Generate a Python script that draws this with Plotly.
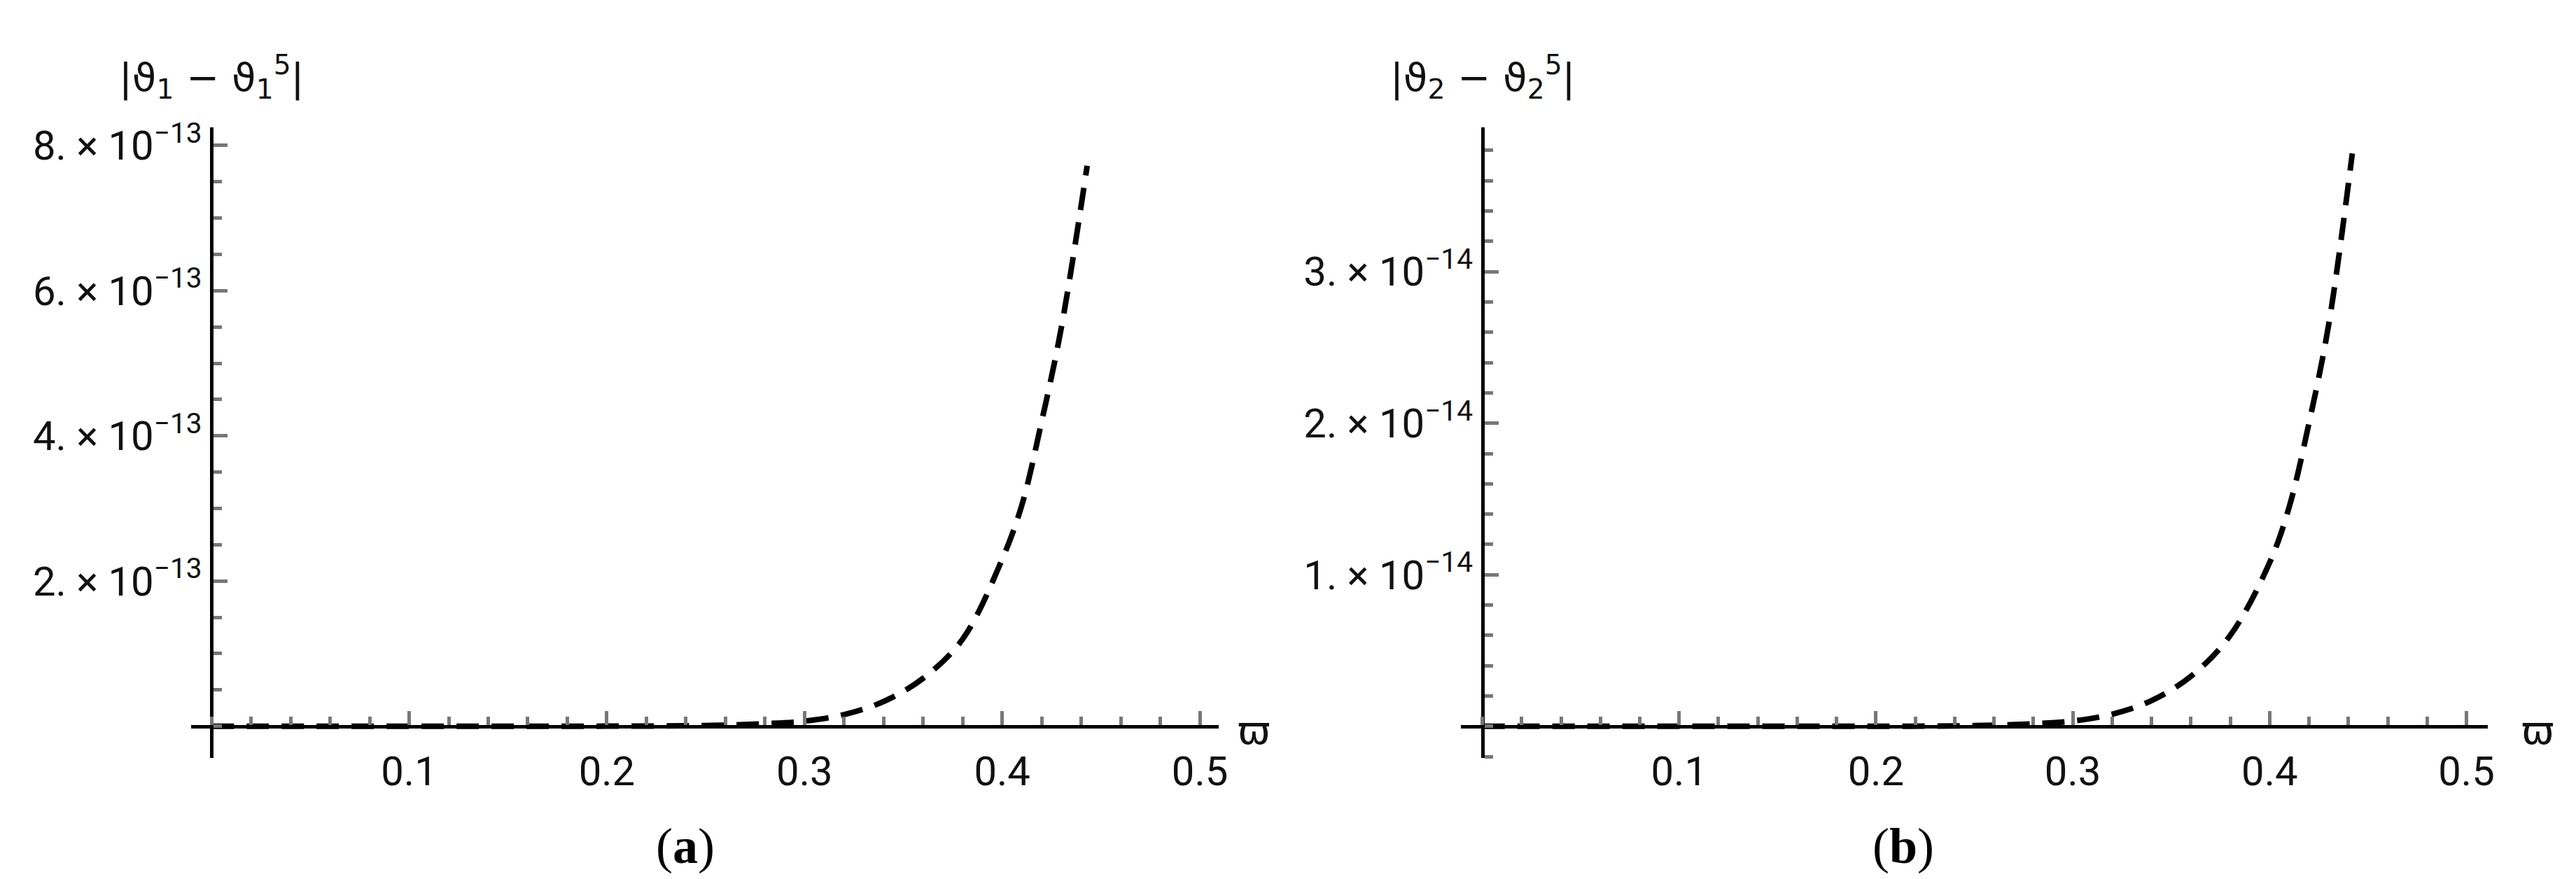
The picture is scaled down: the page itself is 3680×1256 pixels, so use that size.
import plotly.graph_objects as go

W, H = 3680, 1256
# data
x_a = [0, 0.05, 0.1, 0.15, 0.2, 0.25, 0.28, 0.3, 0.32, 0.34, 0.36, 0.38, 0.4, 0.41, 0.42, 0.43, 0.443]
y_a = [0, 0, 0, 0, 0.0007e-13, 0.009e-13, 0.035e-13, 0.07e-13, 0.16e-13, 0.34e-13, 0.66e-13,
       1.2e-13, 2.3e-13, 3.05e-13, 4.2e-13, 5.5e-13, 7.72e-13]
x_b = [0, 0.05, 0.1, 0.15, 0.2, 0.25, 0.28, 0.3, 0.32, 0.34, 0.36, 0.38, 0.4, 0.41, 0.42, 0.43, 0.442]
y_b = [0, 0, 0, 0, 0.0003e-14, 0.0045e-14, 0.017e-14, 0.035e-14, 0.08e-14, 0.17e-14, 0.33e-14,
       0.6e-14, 1.08e-14, 1.45e-14, 2.0e-14, 2.65e-14, 3.78e-14]
xticks = [0.1, 0.2, 0.3, 0.4, 0.5]
yticks_a = [2e-13, 4e-13, 6e-13, 8e-13]
yticks_a_txt = ["2. × 10<sup>−13</sup>", "4. × 10<sup>−13</sup>", "6. × 10<sup>−13</sup>", "8. × 10<sup>−13</sup>"]
yticks_b = [1e-14, 2e-14, 3e-14]
yticks_b_txt = ["1. × 10<sup>−14</sup>", "2. × 10<sup>−14</sup>", "3. × 10<sup>−14</sup>"]

FONT = "Liberation Sans Narrow, Roboto, Arial"
yd = [1 - 1073 / H, 1 - 160 / H]

fig = go.Figure()
line = dict(color="black", width=8, dash="32px,18px")
fig.add_trace(go.Scatter(x=x_a, y=y_a, mode="lines", line=line, line_shape="spline", xaxis="x", yaxis="y"))
fig.add_trace(go.Scatter(x=x_b, y=y_b, mode="lines", line=line, line_shape="spline", xaxis="x2", yaxis="y2"))

def panel(xdom, xr, yr, yt, ytt, ydtick_minor):
    xpos = xdom[0] + (0 - xr[0]) / (xr[1] - xr[0]) * (xdom[1] - xdom[0])
    ypos = yd[0] + (0 - yr[0]) / (yr[1] - yr[0]) * (yd[1] - yd[0])
    common = dict(showgrid=False, zeroline=False, showline=True, linecolor="black", linewidth=5,
                  ticks="inside", tickcolor="#777", tickwidth=5,
                  tickfont=dict(family=FONT, size=58, color="#111"))
    xa = dict(common, domain=xdom, range=xr, anchor="free", position=ypos, tickvals=xticks,
              ticklen=20, ticklabelstandoff=12,
              minor=dict(ticks="inside", dtick=0.02, ticklen=12, tickcolor="#777", tickwidth=5))
    ya = dict(common, domain=yd, range=yr, anchor="free", position=xpos, tickvals=yt, ticktext=ytt,
              ticklen=20, minor=dict(ticks="inside", dtick=ydtick_minor, ticklen=12, tickcolor="#777", tickwidth=5))
    return xa, ya

xa1, ya1 = panel([266 / W, 1739 / W], [-0.0103, 0.5095], [-0.44e-13, 8.25e-13], yticks_a, yticks_a_txt, 0.5e-13)
xa2, ya2 = panel([2086 / W, 3559 / W], [-0.011, 0.511], [-0.21e-14, 3.952e-14], yticks_b, yticks_b_txt, 0.2e-14)

fig.update_layout(width=W, height=H, margin=dict(l=0, r=0, t=0, b=0), showlegend=False,
                  plot_bgcolor="white", paper_bgcolor="white",
                  xaxis=xa1, yaxis=ya1, xaxis2=xa2, yaxis2=ya2)

ann = [
    dict(text="|&#x3D1;<sub>1</sub> − &#x3D1;<sub>1</sub><sup>5</sup>|", x=295 / W, y=1 - 87 / H),
    dict(text="|&#x3D1;<sub>2</sub> − &#x3D1;<sub>2</sub><sup>5</sup>|", x=2117 / W, y=1 - 87 / H),
    dict(text="ϖ", x=1790 / W, y=1 - 1033 / H),
    dict(text="ϖ", x=3630 / W, y=1 - 1033 / H),
]
for a in ann:
    fig.add_annotation(xref="paper", yref="paper", x=a["x"], y=a["y"], text=a["text"], showarrow=False,
                       font=dict(family="DejaVu Sans, sans-serif", size=56, color="#111"),
                       xanchor="center", yanchor="middle")
for t, x in [("(<b>a</b>)", 930), ("(<b>b</b>)", 2767)]:
    fig.add_annotation(xref="paper", yref="paper", x=x / W, y=1 - 1200 / H, text=t, showarrow=False,
                       font=dict(family="Liberation Serif, serif", size=72, color="black"),
                       yanchor="middle")

fig.write_html("out.html")
